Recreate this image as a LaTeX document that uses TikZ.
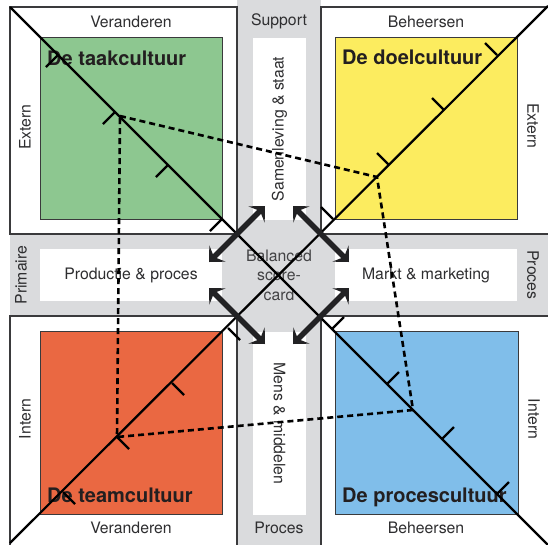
\documentclass[tikz,border=0pt]{standalone}
\usepackage{fontspec}
\setmainfont{TeX Gyre Heros}
\usetikzlibrary{arrows.meta}

\definecolor{band}{HTML}{DADBDD}
\definecolor{rim}{HTML}{3A3A3C}
\definecolor{labelgray}{HTML}{2E2E30}
\definecolor{titleblk}{HTML}{231F20}
\definecolor{arrowblk}{HTML}{222224}
\definecolor{taak}{HTML}{8DC790}
\definecolor{doel}{HTML}{FCEC5F}
\definecolor{team}{HTML}{EA6842}
\definecolor{proces}{HTML}{80BEEA}

\begin{document}
\begin{tikzpicture}[x=1pt,y=-1pt,
  lbl/.style={font=\fontsize{15.8}{18}\selectfont, text=labelgray, inner sep=0pt},
  title/.style={font=\fontsize{20}{22}\selectfont\bfseries, text=titleblk, anchor=base west, inner sep=0pt},
  quad/.style={draw=rim, line width=1.2pt, fill=white},
  culture/.style={draw=rim, line width=0.8pt},
  whitebox/.style={fill=white, draw=none, lbl, inner sep=0pt},
  diag/.style={line width=2.2pt, black},
  tickmark/.style={line width=2.2pt, black},
  link/.style={line width=2.6pt, black, dash pattern=on 6pt off 4pt},
  twoway/.style={line width=5.5pt, draw=arrowblk,
    {Stealth[length=12pt,width=23pt,inset=5pt]}-{Stealth[length=12pt,width=23pt,inset=5pt]}}
]
\useasboundingbox (0,0) rectangle (548,544);
\clip (0,0) rectangle (548,544);

% grey support bands
\fill[band] (237,-5) rectangle (321,560);
\fill[band] (10,234) rectangle (560,316);

% four white quadrants
\draw[quad] (10,7) rectangle (237,234);
\draw[quad] (321,7) rectangle (560,234);
\draw[quad] (10,316) rectangle (237,560);
\draw[quad] (321,316) rectangle (560,560);

% culture squares
\draw[culture, fill=taak]   (40,37)   rectangle (222,219);
\draw[culture, fill=doel]   (335,37)  rectangle (517,219);
\draw[culture, fill=team]   (40,331)  rectangle (222,514);
\draw[culture, fill=proces] (335,331) rectangle (518,514);

% white boxes in the bands
\node[whitebox, rotate=90, minimum width=182pt, minimum height=53pt] (soc) at (279.5,129) {Samenleving \& staat};
\node[whitebox, rotate=-90, minimum width=183pt, minimum height=53pt] (mens) at (279.5,423.5) {Mens \& middelen};
\node[whitebox, minimum width=182pt, minimum height=52pt] (prod) at (131,275) {Productie \& proces};
\node[whitebox, minimum width=182pt, minimum height=52pt] (markt) at (426,275) {Markt \& marketing};

% central scorecard
\node[circle, fill=band, minimum size=110pt, align=center, lbl,
      font=\fontsize{15.8}{19.5}\selectfont, text=labelgray!90!white] (bsc) at (279,275) {Balanced\\score-\\card};

% edge labels
\node[lbl] (verTL) at (131,22) {Veranderen};
\node[lbl] (behTR) at (426,22) {Beheersen};
\node[lbl] (sup) at (279,21) {Support};
\node[lbl] (verBL) at (131,528) {Veranderen};
\node[lbl] (behBR) at (426,528) {Beheersen};
\node[lbl] (proB) at (279,528) {Proces};
\node[lbl, rotate=90] (extL) at (25,127) {Extern};
\node[lbl, rotate=-90] (extR) at (533,126) {Extern};
\node[lbl, rotate=90] (intL) at (25,419) {Intern};
\node[lbl, rotate=-90] (intR) at (534,419) {Intern};
\node[lbl, rotate=90] (prim) at (21,275) {Primaire};
\node[lbl, rotate=-90] (proR) at (533,275) {Proces};

% culture titles
\node[title] (tTaak) at (47,65) {De taakcultuur};
\node[title] (tDoel) at (342,64) {De doelcultuur};
\node[title] (tTeam) at (47,502) {De teamcultuur};
\node[title] (tProc) at (342,502) {De procescultuur};

% diagonals
\coordinate (dTL) at (10,7);
\coordinate (dBR) at (548,545);
\coordinate (dBL) at (10,543);
\coordinate (dTR) at (548,6);
\draw[diag] (dTL) -- (dBR);
\draw[diag] (dBL) -- (dTR);

% scale ticks on the diagonals
\foreach \p in {(58,55),(115,112),(168,165),(222,219)}
  \draw[tickmark] \p -- ++(-12,12);
\foreach \p in {(333,219),(389,165),(444,110),(497,55)}
  \draw[tickmark] \p -- ++(-12,-12);
\foreach \p in {(228,328),(172,383),(117,437),(63,492)}
  \draw[tickmark] \p -- ++(12,12);
\foreach \p in {(332,329),(387,384),(442,439),(497,494)}
  \draw[tickmark] \p -- ++(12,-12);

% profile polygon
\coordinate (pTaak) at (120,116);
\coordinate (pDoel) at (377,177);
\coordinate (pProc) at (413,410);
\coordinate (pTeam) at (117,437);
\draw[link] (pTaak) -- (pDoel) -- (pProc) -- (pTeam) -- cycle;

% two-way arrows around the scorecard
\coordinate (a1) at (209,262); \coordinate (a2) at (265,206);
\coordinate (b1) at (293,206); \coordinate (b2) at (349,262);
\coordinate (c1) at (209,288); \coordinate (c2) at (265,344);
\coordinate (e1) at (349,288); \coordinate (e2) at (293,344);
\draw[twoway] (a1) -- (a2);
\draw[twoway] (b1) -- (b2);
\draw[twoway] (c1) -- (c2);
\draw[twoway] (e1) -- (e2);
\end{tikzpicture}
\end{document}
